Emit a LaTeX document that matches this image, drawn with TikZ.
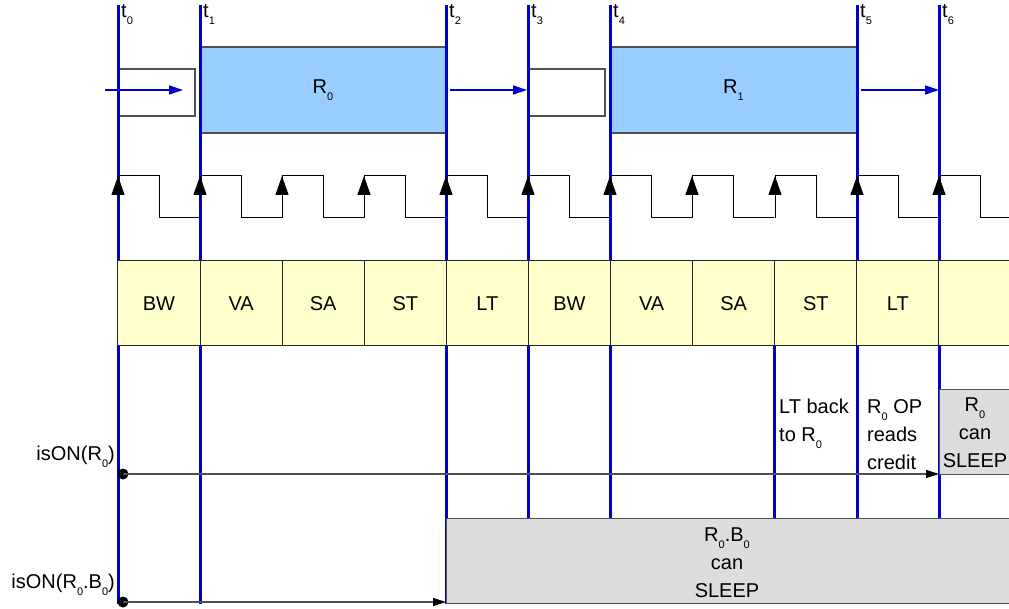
\documentclass[tikz,border=0pt]{standalone}
\usepackage{fontspec}
\setmainfont{Liberation Sans}
\usepackage{xcolor}
\usetikzlibrary{arrows.meta, positioning}

\definecolor{tblue}{RGB}{0,0,204}
\definecolor{regfill}{RGB}{153,204,255}
\definecolor{stagefill}{RGB}{255,255,204}
\definecolor{sleepfill}{RGB}{221,221,221}
\definecolor{edgegray}{RGB}{80,80,80}

\newcommand{\lowsub}[1]{\raisebox{-7pt}{\fontsize{11}{11}\selectfont #1}}

\tikzset{
  tline/.style={tblue, line width=3pt},
  regbox/.style={draw=edgegray, line width=1.3pt, fill=regfill, minimum width=246pt, minimum height=86pt, inner sep=0pt},
  idlebox/.style={draw=edgegray, line width=1.3pt, fill=white, minimum width=77pt, minimum height=47pt, inner sep=0pt},
  stagebox/.style={draw=black!85, line width=1pt, fill=stagefill, minimum width=82.1pt, minimum height=85pt, inner sep=0pt},
  sleepbox/.style={draw=edgegray, line width=1pt, fill=sleepfill, inner sep=0pt},
  flow/.style={tblue, line width=1.3pt, -{Triangle[length=14pt,width=9pt]}},
  onarrow/.style={edgegray, line width=1.2pt, -{Triangle[length=13pt,width=8pt,color=black]}},
  clk/.style={black, line width=1pt},
  clkarrow/.style={black, line width=1pt, -{Triangle[length=19pt,width=13pt]}},
  dot/.style={circle, fill=black, minimum size=11pt, inner sep=0pt},
  note/.style={inner sep=0pt, font=\fontsize{20}{28}\selectfont},
}

\begin{document}
\begin{tikzpicture}[x=1pt, y=-1pt, font=\fontsize{20}{28}\selectfont]
    \useasboundingbox (0,0) rectangle (1009,609);

    % Register slots
    \node[idlebox] (idle0) at (156.5,92.5) {};
    \node[regbox] (reg0) at (323,90) {R\lowsub{0}};
    \node[idlebox] (idle1) at (566.5,92.5) {};
    \node[regbox] (reg1) at (733.5,90) {R\lowsub{1}};

    % Clock
    \foreach \x in {118,200,282,364,446,528,610,692,775,857,939}
        \draw[clk] (\x,218) -- (\x,176) -- ++(41,0) -- ++(0,42) -- ++(41,0);

    % Time lines
    \foreach \x/\n/\y in {118/0/604, 200/1/604, 446/2/604, 528/3/518, 610/4/518, 857/5/518, 939/6/518} {
        \coordinate (t\n top) at (\x,5);
        \coordinate (t\n bot) at (\x,\y);
        \draw[tline] (t\n top) -- (t\n bot);
        \node[inner sep=0pt, anchor=north west] (tl\n) at (\x+3,4) {t\lowsub{\n}};
    }

    % Clock edges
    \foreach \x in {118,200,282,364,446,528,610,692,775,857,939}
        \draw[clkarrow] (\x,198) -- (\x,176);

    % Incoming flits
    \coordinate (in0) at (105,90);
    \coordinate (in0end) at (183,90);
    \coordinate (in1) at (450,90);
    \coordinate (in1end) at (527,90);
    \coordinate (in2) at (861,90);
    \coordinate (in2end) at (939,90);
    \draw[flow] (in0) -- (in0end);
    \draw[flow] (in1) -- (in1end);
    \draw[flow] (in2) -- (in2end);

    % Pipeline stages
    \foreach \lab [count=\i from 0] in {BW,VA,SA,ST,LT,BW,VA,SA,ST,LT,{}}
        \node[stagebox] (stage\i) at (159+82.1*\i,303.5) {\lab};

    % Sleep windows
    \node[sleepbox, minimum width=90pt, minimum height=85pt, anchor=north west] (sleepR) at (939,389) {};
    \node[sleepbox, minimum width=580pt, minimum height=85pt, anchor=north west] (sleepB) at (446,518) {};
    \draw[tline] (stage8.south west) -- (stage8.south west |- sleepB.north);

    \node[note, align=center, anchor=north] (sleepRtxt) at (975,398) {R\lowsub{0}\\can\\SLEEP};
    \node[note, align=center, anchor=north] (sleepBtxt) at (727,528) {R\lowsub{0}.B\lowsub{0}\\can\\SLEEP};

    % isON signals
    \node[dot] (on0) at (123,474) {};
    \node[dot] (on1) at (123,602) {};
    \coordinate (on0end) at (939,474);
    \coordinate (on1end) at (446,602);
    \draw[onarrow] (on0.center) -- (on0end);
    \draw[onarrow] (on1.center) -- (on1end);
    \node[inner sep=0pt, anchor=base east] (lbl0) at (115,460) {isON(R\lowsub{0})};
    \node[inner sep=0pt, anchor=base east] (lbl1) at (115,588) {isON(R\lowsub{0}.B\lowsub{0})};

    % Notes
    \node[note, align=left, anchor=north west] (back) at (779,399) {LT back\\to R\lowsub{0}};
    \node[note, align=left, anchor=north west] (credit) at (867,399) {R\lowsub{0} OP\\reads\\credit};
\end{tikzpicture}
\end{document}
